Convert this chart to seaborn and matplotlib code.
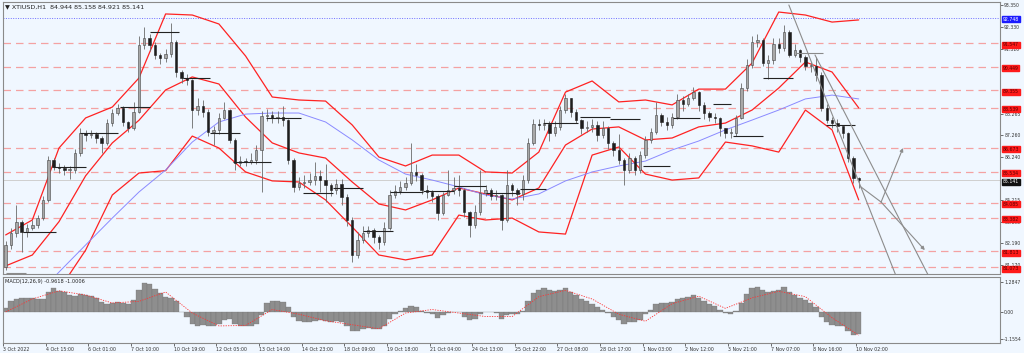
import numpy as np
import pandas as pd
import seaborn as sns
import matplotlib.pyplot as plt
import matplotlib.transforms as mtransforms

# XTIUSD H1 chart; each candle here = 4 hourly bars
first_open = 81.08
closes = [82.11, 82.67, 83.19, 82.72, 82.91, 83.05, 83.37, 84.22, 86.09, 85.76,
          85.72, 85.62, 85.62, 86.42, 87.35, 87.26, 87.31, 87.12, 86.89, 87.82,
          88.29, 88.53, 87.87, 87.59, 88.34, 91.48, 91.80, 91.48, 91.01, 90.87,
          91.06, 91.62, 90.21, 89.93, 89.84, 88.43, 88.62, 88.34, 87.40, 87.50,
          88.06, 88.43, 87.03, 85.95, 86.04, 86.00, 86.09, 86.56, 88.15, 88.20,
          88.06, 88.10, 87.96, 86.09, 84.83, 85.01, 85.06, 85.15, 85.34, 85.15,
          84.92, 84.69, 84.97, 84.36, 83.28, 81.64, 82.34, 82.67, 82.81, 82.48,
          82.25, 82.91, 84.45, 84.64, 84.83, 85.01, 85.53, 85.39, 84.69, 84.59,
          84.40, 83.61, 84.45, 84.69, 84.78, 84.69, 83.65, 83.05, 83.65, 84.54,
          84.69, 84.40, 84.45, 83.28, 84.92, 84.69, 84.50, 85.15, 86.89, 87.78,
          87.73, 87.78, 87.35, 87.64, 88.43, 88.99, 88.34, 87.96, 87.59, 87.64,
          87.73, 87.26, 87.59, 86.89, 86.56, 86.09, 85.62, 86.18, 85.62, 86.32,
          87.03, 87.40, 88.20, 87.87, 87.73, 88.10, 88.90, 88.71, 88.99, 89.27,
          88.67, 88.29, 88.10, 88.06, 87.59, 87.35, 87.35, 88.06, 89.46, 90.54,
          91.62, 91.71, 90.63, 90.77, 91.52, 91.34, 92.09, 91.01, 91.24, 90.91,
          90.49, 90.49, 90.07, 88.53, 87.96, 87.82, 87.68, 87.35, 86.18, 85.25,
          85.141]
highs = [82.3, 82.9, 84.0, 83.3, 83.1, 83.3, 83.5, 84.4, 86.3, 86.2,
         85.95, 85.85, 85.8, 86.6, 87.6, 87.5, 87.5, 87.4, 87.2, 88.0,
         88.5, 88.7, 88.6, 87.9, 88.8, 91.9, 92.3, 92.0, 91.6, 91.1,
         91.3, 92.5, 91.7, 90.3, 90.1, 89.9, 89.0, 88.9, 88.5, 87.7,
         88.3, 88.8, 88.5, 87.1, 86.3, 86.2, 86.4, 86.8, 88.4, 88.5,
         88.4, 88.4, 88.6, 88.0, 86.2, 85.3, 85.4, 85.5, 86.0, 85.6,
         85.9, 85.0, 85.2, 85.2, 84.5, 83.4, 82.7, 83.0, 83.0, 82.9,
         82.6, 83.2, 84.7, 84.9, 85.1, 85.3, 86.9, 85.9, 85.5, 84.9,
         84.7, 84.5, 84.6, 85.6, 85.3, 85.4, 84.8, 83.7, 84.0, 85.6,
         84.9, 84.8, 84.7, 84.5, 85.6, 85.0, 84.8, 85.4, 87.1, 88.0,
         88.0, 88.0, 87.9, 87.9, 88.6, 89.2, 89.0, 88.5, 88.0, 87.9,
         88.0, 87.9, 87.9, 87.7, 87.0, 87.3, 86.2, 86.4, 86.3, 86.5,
         87.2, 87.6, 88.8, 88.3, 88.1, 88.3, 89.2, 89.1, 89.2, 89.5,
         89.3, 88.8, 88.4, 88.3, 88.1, 87.6, 87.6, 88.2, 89.7, 90.8,
         91.9, 92.0, 91.8, 91.0, 91.8, 91.8, 92.4, 92.2, 91.5, 91.3,
         91.0, 90.7, 90.9, 90.2, 88.7, 88.1, 88.0, 87.7, 87.4, 86.3,
         85.3]
lows = [80.95, 81.9, 82.5, 81.8, 82.5, 82.8, 82.9, 83.3, 84.1, 85.6,
        85.5, 85.4, 85.2, 85.5, 86.3, 87.0, 87.1, 86.9, 86.4, 86.8,
        87.7, 88.2, 87.7, 87.4, 87.5, 88.3, 91.3, 91.2, 90.8, 90.6,
        90.7, 90.9, 90.0, 89.7, 89.6, 87.6, 88.2, 88.1, 87.2, 86.8,
        87.3, 88.0, 86.9, 85.6, 85.8, 85.8, 85.9, 85.9, 84.6, 87.9,
        87.8, 87.8, 87.7, 85.9, 84.6, 84.7, 84.8, 84.9, 84.9, 84.6,
        84.1, 84.4, 84.5, 84.0, 83.0, 81.3, 81.5, 82.2, 82.5, 82.2,
        81.9, 82.1, 82.8, 84.3, 84.5, 84.7, 84.9, 85.1, 84.5, 84.3,
        84.1, 83.3, 83.5, 84.4, 84.5, 84.4, 83.4, 82.5, 82.9, 83.5,
        84.4, 84.2, 84.2, 82.8, 83.2, 84.4, 84.0, 84.2, 85.0, 86.8,
        87.5, 87.5, 87.0, 87.2, 87.5, 88.3, 88.1, 87.8, 87.3, 87.4,
        87.4, 87.0, 87.1, 86.6, 86.3, 85.9, 84.9, 85.5, 85.4, 85.5,
        86.2, 86.9, 87.3, 87.7, 87.5, 87.6, 88.0, 88.4, 88.6, 88.9,
        88.4, 88.0, 87.9, 87.8, 87.2, 87.1, 87.1, 87.2, 88.0, 89.3,
        90.4, 91.4, 90.5, 89.9, 90.6, 91.1, 91.2, 90.9, 90.9, 90.7,
        90.3, 90.2, 89.8, 88.4, 87.8, 87.6, 87.4, 87.1, 86.0, 85.0,
        84.8]

# bands / moving average sampled every 5 candles
band_idx = list(range(0, 161, 5))
bb_upper = [82.58, 83.28, 86.65, 88.06, 88.57, 89.93, 92.93, 92.88, 92.46, 90.96,
            89.04, 88.90, 88.85, 87.73, 86.23, 85.81, 86.32, 86.32, 85.53, 85.48,
            86.46, 89.27, 89.79, 88.81, 88.90, 88.67, 89.41, 89.41, 90.63, 93.02,
            92.88, 92.55, 92.65]
bb_middle = [81.13, 81.64, 83.20, 85.35, 86.89, 87.95, 89.37, 89.98, 89.65, 88.10,
             86.89, 86.42, 86.18, 85.06, 84.03, 83.75, 84.22, 84.78, 84.50, 84.22,
             84.78, 86.79, 87.54, 87.64, 87.03, 87.12, 87.64, 87.82, 88.43, 89.46,
             90.68, 90.21, 88.53]
bb_lower = [78.60, 79.06, 80.00, 81.87, 84.45, 85.48, 85.59, 87.21, 86.65, 85.53,
            85.11, 85.06, 84.22, 82.95, 81.64, 81.41, 81.64, 83.51, 83.28, 83.37,
            82.72, 82.62, 86.32, 86.70, 85.43, 85.15, 85.25, 86.93, 86.75, 86.46,
            88.43, 87.50, 84.22]
ma_slow = [78.13, 79.53, 80.84, 82.11, 83.37, 84.59, 85.62, 86.93, 87.87, 88.24,
           88.29, 88.29, 87.87, 87.03, 86.09, 85.43, 85.15, 84.83, 84.45, 84.26,
           84.50, 85.11, 85.53, 85.81, 86.04, 86.56, 86.98, 87.50, 87.96, 88.43,
           88.95, 89.13, 88.95]

macd_main = [0.15, 0.45, 0.55, 0.58, 0.58, 0.58, 0.56, 0.55, 0.85, 1.0,
             0.9, 0.83, 0.7, 0.68, 0.75, 0.7, 0.66, 0.6, 0.42, 0.33,
             0.38, 0.42, 0.36, 0.33, 0.5, 0.95, 1.24, 1.18, 0.98, 0.8,
             0.64, 0.58, 0.45, 0.0, -0.2, -0.5, -0.6, -0.58, -0.62, -0.62,
             -0.52, -0.35, -0.3, -0.5, -0.6, -0.6, -0.62, -0.5, -0.15, 0.38,
             0.46, 0.46, 0.44, 0.2, -0.2, -0.37, -0.45, -0.45, -0.4, -0.35,
             -0.38, -0.42, -0.4, -0.45, -0.6, -0.8, -0.82, -0.75, -0.7, -0.72,
             -0.72, -0.6, -0.3, -0.1, 0.05, 0.15, 0.25, 0.2, 0.05, -0.05,
             -0.1, -0.25, -0.15, -0.05, 0.0, 0.0, -0.2, -0.35, -0.3, -0.1,
             0.0, 0.0, -0.05, -0.3, -0.15, -0.1, -0.1, 0.05, 0.45, 0.8,
             0.95, 1.0, 0.95, 0.9, 0.95, 1.0, 0.85, 0.7, 0.55, 0.45,
             0.35, 0.2, 0.1, -0.05, -0.2, -0.35, -0.5, -0.45, -0.45, -0.35,
             -0.1, 0.1, 0.35, 0.4, 0.4, 0.42, 0.55, 0.6, 0.65, 0.7,
             0.6, 0.45, 0.35, 0.25, 0.1, -0.05, -0.1, 0.05, 0.4, 0.75,
             1.0, 1.05, 0.95, 0.85, 0.9, 0.95, 1.05, 0.85, 0.7, 0.6,
             0.5, 0.4, 0.2, -0.2, -0.45, -0.55, -0.6, -0.62, -0.8, -1.0,
             -0.9618]
macd_signal = [0.0, 0.55, 0.9, 0.72, 0.38, 0.45, 0.85, -0.05, -0.6, -0.58,
               0.1, -0.1, -0.38, -0.55, -0.72, -0.05, 0.1, -0.05, -0.2, -0.2,
               0.65, 0.92, 0.55, -0.1, -0.4, 0.35, 0.67, 0.15, 0.6, 0.88,
               0.65, -0.25, -1.0006]

red_levels = [91.547, 90.449, 89.355, 88.539, 86.673, 85.534, 84.085, 83.382, 81.813, 81.073]
blue_level = 92.748
last_price = 85.141
# scale labels that are not covered by the level boxes
price_ticks = [93.350, 92.330, 91.310, 88.265, 87.260, 86.240,
               84.215, 83.195, 82.190, 81.170]

# daily open segments (start candle, end candle, price)
day_segments = [(0, 3.8, 80.80), (3.2, 9.4, 82.72), (8.8, 15, 85.76), (13.9, 21, 87.35),
                (21.4, 27, 88.57), (27, 32.6, 92.09), (33.2, 38.3, 89.93), (38.3, 43.9, 87.35),
                (42.6, 49.7, 86.00), (48.8, 55.3, 88.06), (55.7, 61.4, 84.54), (61.4, 67, 84.78),
                (67, 72.6, 82.76), (72, 78.2, 84.59), (78.2, 84, 84.64), (84, 90, 84.87),
                (90, 96.4, 84.54), (96.4, 101.3, 84.73), (100.7, 107.3, 87.82), (107.7, 113.3, 88.10),
                (113.3, 119, 88.01), (119.5, 124.6, 85.81), (125.1, 130.2, 88.06), (132.6, 136, 88.71),
                (136.4, 142, 87.21), (142, 147.7, 89.93), (148.2, 153.3, 91.10), (153.8, 159.3, 87.73)]
grey_segments = {0, 26}

date_labels = ['3 Oct 2022', '4 Oct 15:00', '6 Oct 01:00', '7 Oct 10:00', '10 Oct 19:00',
               '12 Oct 05:00', '13 Oct 14:00', '14 Oct 23:00', '18 Oct 09:00', '19 Oct 18:00',
               '21 Oct 04:00', '24 Oct 13:00', '25 Oct 22:00', '27 Oct 08:00', '28 Oct 17:00',
               '1 Nov 03:00', '2 Nov 12:00', '3 Nov 21:00', '7 Nov 07:00', '8 Nov 16:00',
               '10 Nov 02:00']

bg = '#f0f7ff'
sns.set_theme(style='white', rc={'axes.facecolor': bg, 'figure.facecolor': bg})
plt.rcParams['font.family'] = ['DejaVu Sans']

df = pd.DataFrame({'close': closes, 'high': highs, 'low': lows})
df['open'] = [first_open] + closes[:-1]
df['idx'] = np.arange(len(df))
bands = pd.DataFrame({'idx': band_idx, 'upper': bb_upper, 'middle': bb_middle,
                      'lower': bb_lower, 'ma': ma_slow, 'signal': macd_signal})

W, H = 1024, 353
fig = plt.figure(figsize=(W / 100, H / 100), dpi=100)
ax = fig.add_axes([3 / W, 1 - 274 / H, 997 / W, 272 / H])
ax2 = fig.add_axes([3 / W, 1 - 343 / H, 997 / W, 66 / H], sharex=ax)
xmax = 186.5
ax.set_xlim(-0.5, xmax)
ax.set_ylim(80.75, 93.49)
ax2.set_ylim(-1.33, 1.49)

# levels
for lv in red_levels:
    ax.axhline(lv, color='#f4a2a2', lw=0.9, ls=(0, (6, 4)), zorder=1)
ax.axhline(blue_level, color='#6f6fff', lw=0.7, ls=(0, (1, 1.5)), zorder=1)
ax.axhline(last_price, color='#cfcfcf', lw=0.7, zorder=1)

# indicators
for col, c, lw in [('upper', '#f22', 0.9), ('middle', '#f22', 0.9), ('lower', '#f22', 0.9),
                   ('ma', '#8a8aff', 0.7)]:
    sns.lineplot(data=bands, x='idx', y=col, ax=ax, color=c, lw=lw, zorder=3)

# candles
up = df['close'] >= df['open']
ax.vlines(df['idx'], df['low'], df['high'], color='#6a6a6a', lw=0.6, zorder=4)
body_lo = np.minimum(df['open'], df['close'])
body_h = np.maximum((df['close'] - df['open']).abs(), 0.03)
ax.bar(df['idx'][up], body_h[up], bottom=body_lo[up], width=0.45,
       color='#a8a8a8', edgecolor='#444', lw=0.4, zorder=5)
ax.bar(df['idx'][~up], body_h[~up], bottom=body_lo[~up], width=0.45,
       color='#1e1e1e', edgecolor='#1e1e1e', lw=0.4, zorder=5)

for i, (s, e, p) in enumerate(day_segments):
    ax.hlines(p, s, e, color='#8a8a8a' if i in grey_segments else '#222', lw=0.8, zorder=6)

# drawn channel and arrows
ax.plot([146.9, 167.3], [93.35, 80.47], color='#8c8c8c', lw=0.8, zorder=6)
ax.plot([151.8, 173.5], [91.01, 80.47], color='#8c8c8c', lw=0.8, zorder=6)
ax.plot([160.4, 164.2], [84.83, 84.12], color='#8c8c8c', lw=0.8, zorder=6)
for tx, ty in [(168.3, 86.65), (172.4, 81.87)]:
    ax.annotate('', xy=(tx, ty), xytext=(164.2, 84.12),
                arrowprops=dict(arrowstyle='-|>', color='#8c8c8c', lw=0.8,
                                mutation_scale=5, shrinkA=0, shrinkB=0), zorder=6)

# right price scale
ax.yaxis.tick_right()
ax.set_yticks(price_ticks)
ax.set_yticklabels([f'{t:.3f}' for t in price_ticks])
ax.tick_params(axis='y', labelsize=3.3, length=2, width=0.5, pad=1, colors='#333', right=True)
ax.tick_params(axis='x', bottom=False, labelbottom=False)
ax.set_xlabel('')
ax.set_ylabel('')
trans = mtransforms.blended_transform_factory(ax.transAxes, ax.transData)
box_tr = mtransforms.offset_copy(trans, fig=fig, x=0, y=-1.5, units='dots')
for lv in red_levels:
    ax.text(1.003, lv, f'{lv:.3f}', transform=box_tr, fontsize=3.3, color='#5a0000',
            va='center', ha='left', clip_on=False, zorder=10,
            bbox=dict(boxstyle='square,pad=0.12', fc='#ff1a1a', ec='#ff1a1a'))
ax.text(1.003, blue_level, f'{blue_level:.3f}', transform=box_tr, fontsize=3.3, color='white',
        va='center', ha='left', clip_on=False, zorder=10,
        bbox=dict(boxstyle='square,pad=0.12', fc='#1a1aff', ec='#1a1aff'))
ax.text(1.003, last_price, f'{last_price:.3f}', transform=box_tr, fontsize=3.3, color='white',
        va='center', ha='left', clip_on=False, zorder=10,
        bbox=dict(boxstyle='square,pad=0.12', fc='#111', ec='#111'))

ax.text(0.002, 0.99, '\u25bc XTIUSD,H1  84.944 85.158 84.921 85.141', transform=ax.transAxes,
        fontsize=4.6, color='#222', va='top', ha='left')

# MACD panel
ax2.bar(df['idx'], macd_main, width=1.0, color='#8e8e8e', edgecolor='#6e6e6e', lw=0.2)
sns.lineplot(data=bands, x='idx', y='signal', ax=ax2, color='#f33', lw=0.6,
             ls=(0, (1.5, 1.5)))
ax2.text(0.002, 0.97, 'MACD(12,26,9) -0.9618 -1.0006', transform=ax2.transAxes,
         fontsize=3.6, color='#222', va='top', ha='left')
ax2.yaxis.tick_right()
ax2.set_yticks([1.2847, 0.0, -1.1554])
ax2.set_yticklabels(['1.2847', '0.00', '-1.1554'])
ax2.tick_params(axis='y', labelsize=3.3, length=2, width=0.5, pad=1, colors='#333', right=True)
ax2.set_ylabel('')
ax2.set_xlabel('')
ax2.set_xticks([8 * j - 0.5 for j in range(len(date_labels))])
ax2.set_xticklabels(date_labels, ha='left')
ax2.tick_params(axis='x', labelsize=3.4, length=2, width=0.5, pad=1, colors='#333', bottom=True)
ax2.set_xlim(-0.5, xmax)

for a in (ax, ax2):
    for sp in a.spines.values():
        sp.set_color('#8a8a8a')
        sp.set_linewidth(0.8)

fig.savefig('out.png', dpi=100, facecolor=bg)
